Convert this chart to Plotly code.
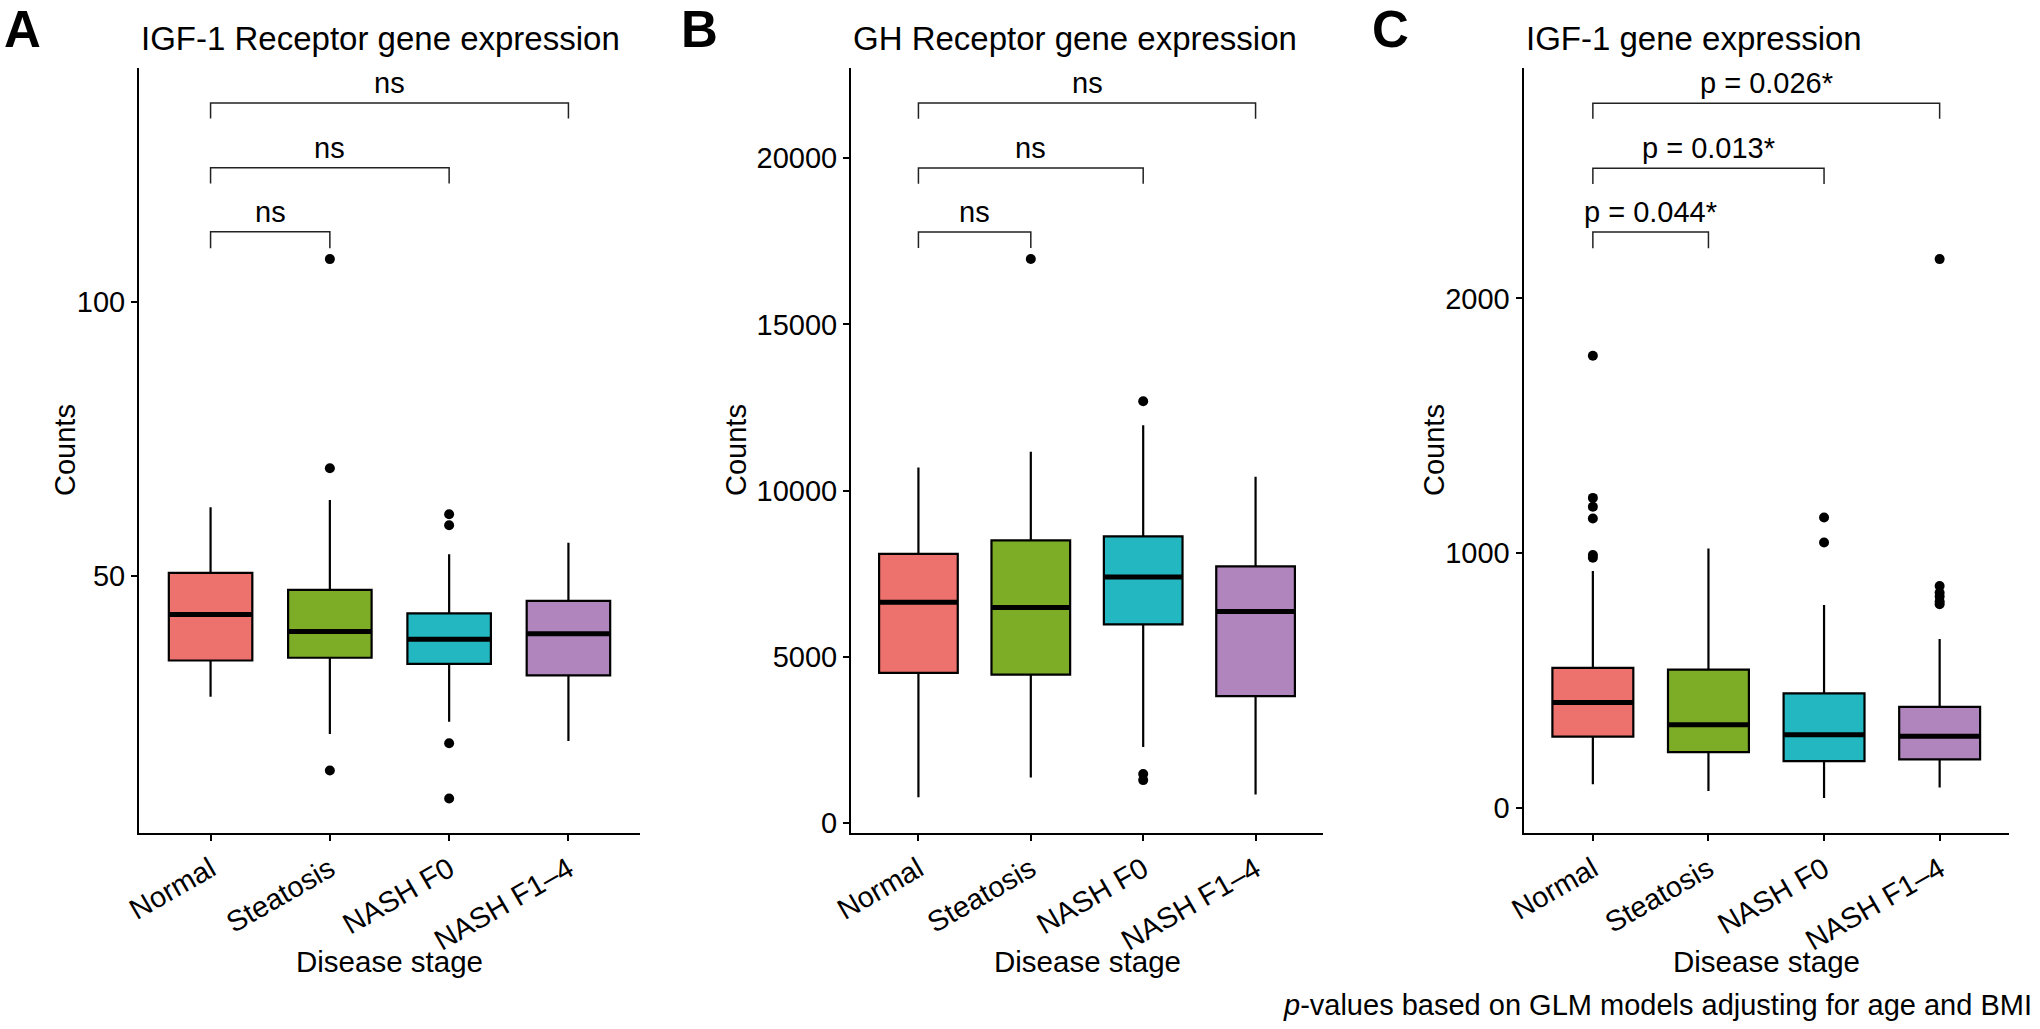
import plotly.graph_objects as go

W, H = 2040, 1029
FONT = "Liberation Sans, Arial, Helvetica, sans-serif"

categories = ["Normal", "Steatosis", "NASH F0", "NASH F1–4"]
colors = ["#ED726D", "#7DAC27", "#22B7C1", "#B084BC"]

# ---- Panel A : IGF-1 Receptor ----
a_q1 = [34.5, 35.0, 33.9, 31.8]
a_median = [42.9, 39.8, 38.4, 39.4]
a_q3 = [50.5, 47.4, 43.1, 45.4]
a_lower = [27.9, 21.1, 23.3, 19.8]
a_upper = [62.5, 63.8, 53.9, 56.0]
a_out_cat = ["Steatosis", "Steatosis", "Steatosis", "NASH F0", "NASH F0", "NASH F0", "NASH F0"]
a_out_val = [107.8, 69.6, 14.4, 61.2, 59.2, 19.4, 9.3]
a_br_level = [112.8, 124.5, 136.3]
a_br_tip = [109.8, 121.6, 133.5]
a_br_label = ["ns", "ns", "ns"]
a_range = [3, 142.7]
a_ticks = [50, 100]

# ---- Panel B : GH Receptor ----
b_q1 = [4516, 4462, 5978, 3817]
b_median = [6645, 6484, 7398, 6366]
b_q3 = [8097, 8505, 8624, 7720]
b_lower = [774, 1366, 2290, 860]
b_upper = [10699, 11172, 11968, 10419]
b_out_cat = ["Steatosis", "NASH F0", "NASH F0", "NASH F0"]
b_out_val = [16966, 12688, 1473, 1290]
b_br_level = [17778, 19705, 21662]
b_br_tip = [17297, 19234, 21189]
b_br_label = ["ns", "ns", "ns"]
b_range = [-301, 22715]
b_ticks = [0, 5000, 10000, 15000, 20000]

# ---- Panel C : IGF-1 ----
c_q1 = [280, 219, 184, 191]
c_median = [414, 327, 288, 282]
c_q3 = [550, 543, 450, 397]
c_lower = [93, 67, 39, 81]
c_upper = [930, 1018, 797, 663]
c_out_cat = ["Normal"] * 6 + ["NASH F0"] * 2 + ["NASH F1–4"] * 6
c_out_val = [1775, 1217, 1182, 1136, 993, 982, 1140, 1042, 2154, 871, 845, 830, 810, 800]
c_br_level = [2260, 2511, 2766]
c_br_tip = [2197, 2449, 2705]
c_br_label = ["p = 0.044*", "p = 0.013*", "p = 0.026*"]
c_range = [-98, 2904]
c_ticks = [0, 1000, 2000]

br_pairs = [("Normal", "Steatosis"), ("Normal", "NASH F0"), ("Normal", "NASH F1–4")]

titles = ["IGF-1 Receptor gene expression", "GH Receptor gene expression", "IGF-1 gene expression"]
panel_letters = ["A", "B", "C"]

# layout geometry (pixels)
plot_x = [(139, 640), (851, 1323), (1523.5, 2009)]
plot_y = (68, 833)
letter_x = [3, 680, 1371]
counts_x = [65, 736, 1434]
BOX_W = 0.7

def px(x):
    return x / W

def py(y):
    return 1 - y / H

pos = {c: i + 1 for i, c in enumerate(categories)}

panels = [
    (a_q1, a_median, a_q3, a_lower, a_upper, a_out_cat, a_out_val, a_br_level, a_br_tip, a_br_label, a_range, a_ticks),
    (b_q1, b_median, b_q3, b_lower, b_upper, b_out_cat, b_out_val, b_br_level, b_br_tip, b_br_label, b_range, b_ticks),
    (c_q1, c_median, c_q3, c_lower, c_upper, c_out_cat, c_out_val, c_br_level, c_br_tip, c_br_label, c_range, c_ticks),
]

fig = go.Figure()
annotations = []

for k, (q1, med, q3, lo, hi, ocat, oval, brl, brt, brlab, yr, yt) in enumerate(panels):
    xa = "x" if k == 0 else f"x{k+1}"
    ya = "y" if k == 0 else f"y{k+1}"
    for i, c in enumerate(categories):
        xi = pos[c]
        fig.add_trace(go.Box(
            x=[xi], q1=[q1[i]], median=[med[i]], q3=[q3[i]],
            lowerfence=[lo[i]], upperfence=[hi[i]],
            width=BOX_W, fillcolor=colors[i],
            line=dict(color="black", width=2.2), whiskerwidth=0,
            boxpoints=False, xaxis=xa, yaxis=ya, hoverinfo="skip",
        ))
        fig.add_trace(go.Scatter(
            x=[xi - BOX_W / 2, xi + BOX_W / 2], y=[med[i], med[i]],
            mode="lines", line=dict(color="black", width=5),
            xaxis=xa, yaxis=ya, hoverinfo="skip",
        ))
    fig.add_trace(go.Scatter(
        x=[pos[c] for c in ocat], y=oval, mode="markers",
        marker=dict(color="black", size=10), xaxis=xa, yaxis=ya, hoverinfo="skip",
    ))
    for (c0, c1), lev, tip, lab in zip(br_pairs, brl, brt, brlab):
        x0, x1 = pos[c0], pos[c1]
        fig.add_trace(go.Scatter(
            x=[x0, x0, x1, x1], y=[tip, lev, lev, tip], mode="lines",
            line=dict(color="#222222", width=1.5), xaxis=xa, yaxis=ya, hoverinfo="skip",
        ))
        annotations.append(dict(
            x=(x0 + x1) / 2, y=lev, xref=xa, yref=ya, text=lab, showarrow=False,
            xanchor="center", yanchor="middle", yshift=20,
            font=dict(size=29, color="black", family=FONT),
        ))

    xl, xr = plot_x[k]
    axis_common = dict(
        showline=True, linecolor="black", linewidth=2, ticks="outside",
        ticklen=6, tickwidth=2, tickcolor="black", showgrid=False, zeroline=False,
        automargin=False,
        tickfont=dict(size=29, color="black", family=FONT),
    )
    fig.layout[("xaxis" if k == 0 else f"xaxis{k+1}")] = dict(
        domain=[px(xl), px(xr)], anchor=ya, range=[0.4, 4.6],
        tickmode="array", tickvals=[pos[c] for c in categories], ticktext=categories,
        tickangle=-30, **axis_common,
    )
    fig.layout[("yaxis" if k == 0 else f"yaxis{k+1}")] = dict(
        domain=[py(plot_y[1]), py(plot_y[0])], anchor=xa, range=yr,
        tickmode="array", tickvals=yt, ticktext=[str(v) for v in yt],
        **axis_common,
    )

    # panel letter
    annotations.append(dict(
        x=px(letter_x[k]), y=1.0, xref="paper", yref="paper", text=f"<b>{panel_letters[k]}</b>",
        showarrow=False, xanchor="left", yanchor="top", borderpad=0,
        font=dict(size=51, color="black", family=FONT),
    ))
    # title
    annotations.append(dict(
        x=px(xl), y=py(39), xref="paper", yref="paper", text=titles[k],
        showarrow=False, xanchor="left", yanchor="middle",
        font=dict(size=33, color="black", family=FONT),
    ))
    # y title
    annotations.append(dict(
        x=px(counts_x[k]), y=py(450), xref="paper", yref="paper", text="Counts",
        showarrow=False, xanchor="center", yanchor="middle", textangle=-90,
        font=dict(size=29, color="black", family=FONT),
    ))
    # x title
    annotations.append(dict(
        x=px((xl + xr) / 2), y=py(961), xref="paper", yref="paper", text="Disease stage",
        showarrow=False, xanchor="center", yanchor="middle",
        font=dict(size=29.5, color="black", family=FONT),
    ))

annotations.append(dict(
    x=px(2034), y=py(1005), xref="paper", yref="paper",
    text="<i>p</i>-values based on GLM models adjusting for age and BMI",
    showarrow=False, xanchor="right", yanchor="middle",
    font=dict(size=29, color="black", family=FONT),
))

fig.update_layout(
    width=W, height=H, margin=dict(l=0, r=0, t=0, b=0, autoexpand=False),
    paper_bgcolor="white", plot_bgcolor="white", showlegend=False,
    annotations=annotations, font=dict(family=FONT, color="black"),
)

fig.write_html(
    "out.html",
    config={"displayModeBar": False},
    post_script="document.body.style.margin='0';document.body.style.padding='0';"
                "document.body.style.overflow='hidden';",
)
